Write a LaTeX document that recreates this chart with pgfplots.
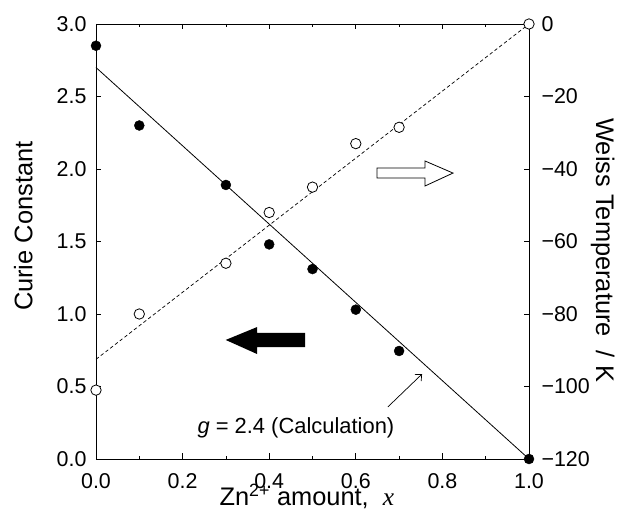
\documentclass[border=0pt]{standalone}
\usepackage{fontspec}
\setmainfont{Liberation Sans}
\newfontfamily\timesit{Liberation Serif}
\usepackage{pgfplots}
\usepackage{pgfplotstable}
\pgfplotsset{compat=1.18}
\usetikzlibrary{arrows.meta}

% Curie constant (left axis)
\pgfplotstableread{
x C
0.0 2.85
0.1 2.30
0.3 1.89
0.4 1.48
0.5 1.31
0.6 1.03
0.7 0.745
1.0 0.0
}\curie

% Weiss temperature / K (right axis)
\pgfplotstableread{
x T
0.0 -101
0.1 -80
0.3 -66
0.4 -52
0.5 -45
0.6 -33
0.7 -28.5
1.0 0
}\weiss

\newcommand\tickfont{\fontsize{21.5}{25}\selectfont}
\newcommand\labfont{\fontsize{25.5}{30}\selectfont}

\begin{document}
\begin{tikzpicture}
\useasboundingbox (0,0) rectangle (618bp,524bp);
\pgfplotsset{
  base/.style={
    scale only axis, width=433bp, height=435bp,
    at={(96bp,65bp)}, anchor=south west,
    xmin=0, xmax=1, clip=false,
    major tick length=5.5bp, minor tick length=3bp,
    every tick/.style={black, line width=0.8bp},
    axis line style={line width=0.8bp},
  }
}
\begin{axis}[base,
  tick align=inside,
  ymin=0, ymax=3,
  xtick={0,0.2,0.4,0.6,0.8,1.0}, xticklabels={0.0,0.2,0.4,0.6,0.8,1.0},
  minor xtick={0.1,0.3,0.5,0.7,0.9},
  xtick pos=both, ytick pos=left,
  ytick={0,0.5,1,1.5,2,2.5,3}, yticklabels={0.0,0.5,1.0,1.5,2.0,2.5,3.0},
  xticklabel style={font=\tickfont, yshift=-11bp},
  yticklabel style={font=\tickfont, xshift=-6bp},
  xlabel={Zn\textsuperscript{2+} amount,\ \ {\timesit\itshape x}},
  ylabel={Curie Constant},
  every axis x label/.style={at={(axis description cs:0.487,-0.106)}, anchor=base, font=\labfont},
  every axis y label/.style={at={(axis description cs:-0.168,0.535)}, anchor=center, rotate=90, font=\labfont},
]
\addplot[black, line width=0.8bp] coordinates {(0,2.7) (1,0)};
\addplot[only marks, mark=*, mark size=5bp, black] table[x=x, y=C] {\curie};
% filled arrow pointing left
\fill (axis cs:0.2995,0.821) -- (axis cs:0.372,0.910) -- (axis cs:0.372,0.869)
  -- (axis cs:0.483,0.869) -- (axis cs:0.483,0.772) -- (axis cs:0.372,0.772)
  -- (axis cs:0.372,0.724) -- cycle;
% open arrow pointing right
\draw[line width=0.8bp, fill=white] (axis cs:0.649,2.007) -- (axis cs:0.760,2.007)
  -- (axis cs:0.760,2.055) -- (axis cs:0.8245,1.972) -- (axis cs:0.760,1.883)
  -- (axis cs:0.760,1.938) -- (axis cs:0.649,1.938) -- cycle;
\node[anchor=base east, font=\fontsize{22}{26}\selectfont] at (axis cs:0.697,0.179)
  {{\itshape g} = 2.4 (Calculation)};
\draw[-{Straight Barb[length=5bp,width=9bp]}, line width=0.7bp]
  (axis cs:0.674,0.359) -- (axis cs:0.753,0.586);
\end{axis}
\begin{axis}[base,
  ymin=-120, ymax=0,
  axis x line=none, axis y line*=right,
  tick align=inside,
  ytick={-120,-100,-80,-60,-40,-20,0},
  yticklabels={−120,−100,−80,−60,−40,−20,0},
  yticklabel style={font=\tickfont, xshift=9bp},
  ylabel={Weiss Temperature\ \ / K},
  every axis y label/.style={at={(axis description cs:1.17,0.48)}, anchor=center, rotate=-90, font=\labfont},
]
\addplot[black, line width=0.7bp, dash pattern=on 3.5bp off 2.5bp] coordinates {(0,-92.5) (1,0)};
\addplot[only marks, mark=*, mark size=5.2bp, mark options={fill=white, draw=black, line width=0.8bp}]
  table[x=x, y=T] {\weiss};
\end{axis}
\end{tikzpicture}
\end{document}
